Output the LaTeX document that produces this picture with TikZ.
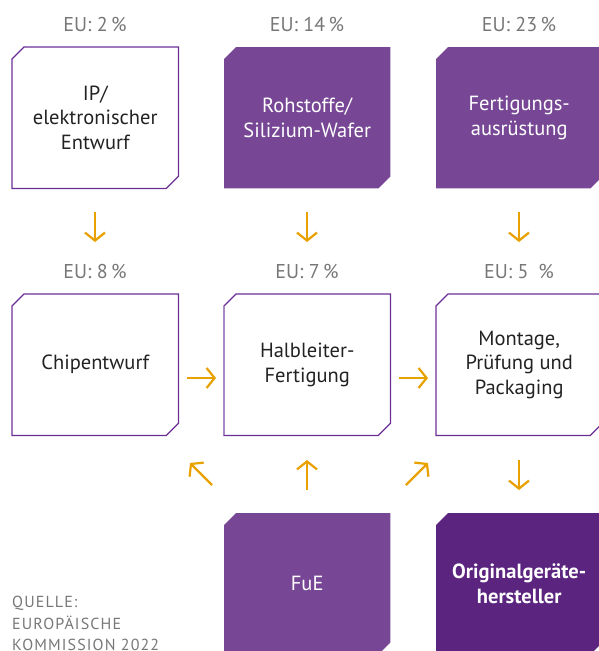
\documentclass[tikz,border=0pt]{standalone}
\usepackage{fontspec}
\setmainfont{PT Sans}
\newfontfamily\srcfont[LetterSpace=7]{PT Sans}
\usetikzlibrary{arrows.meta}
\definecolor{pfill}{HTML}{774795}
\definecolor{pdark}{HTML}{5B247F}
\definecolor{pline}{HTML}{6B2E97}
\definecolor{plight}{HTML}{A888C6}
\definecolor{orng}{HTML}{E9A100}
\definecolor{txt}{HTML}{222222}
\definecolor{lbl}{HTML}{777777}
\newcommand\chamf[2]{\path[#2] ([xshift=12pt]#1.north west) -- (#1.north east) -- ([yshift=12pt]#1.south east) -- ([xshift=-12pt]#1.south east) -- (#1.south west) -- ([yshift=-12pt]#1.north west) -- cycle;}
\tikzset{
  x=1pt, y=-1pt,
  boxn/.style={rectangle, minimum width=166pt, minimum height=141pt, inner sep=0pt, anchor=north west, align=center, font=\fontsize{20.5}{24.5}\selectfont},
  whitebox/.style={boxn, text=txt},
  colbox/.style={boxn, text=white},
  eulbl/.style={font=\fontsize{20}{22}\selectfont, text=lbl},
  oarr/.style={draw=orng, line width=2.2pt, -{Straight Barb[length=8pt,width=20pt,line width=2.2pt]}}
}
\begin{document}
\begin{tikzpicture}
\useasboundingbox (0,0) rectangle (599,651);
% row 1
\node[whitebox] (ip) at (12,47) {IP/\\elektronischer\\Entwurf};
\node[boxn] (roh) at (224,47) {};
\node[boxn] (fert) at (436,47) {};
% row 2
\node[whitebox] (chip) at (12,294) {Chipentwurf};
\node[whitebox] (halb) at (224,294) {Halbleiter-\\Fertigung};
\node[whitebox] (mont) at (436,294) {Montage,\\Prüfung und\\Packaging};
% row 3
\node[boxn] (fue) at (224,513) {};
\node[boxn] (oem) at (436,513) {};
% shapes
\chamf{ip}{draw=pline, line width=1.2pt}
\chamf{chip}{draw=pline, line width=1.2pt}
\chamf{halb}{draw=pline, line width=1.2pt}
\draw[plight, line width=1.2pt] ([yshift=-12pt]halb.north west) -- (halb.south west);
\chamf{mont}{draw=pline, line width=1.2pt}
\chamf{roh}{fill=pfill}
\chamf{fert}{fill=pfill}
\chamf{fue}{fill=pfill}
\chamf{oem}{fill=pdark}
% texts on filled boxes
\node[colbox] (rohT) at (224,47) {Rohstoffe/\\Silizium-Wafer};
\node[colbox] (fertT) at (436,47) {Fertigungs-\\ausrüstung};
\node[colbox] (fueT) at (224,513) {FuE};
\node[colbox, font=\fontsize{20.5}{24.5}\selectfont\bfseries] (oemT) at (436,513) {Originalgeräte-\\hersteller};
% labels
\node[eulbl] (l1) at (95,24) {EU: 2\,\%};
\node[eulbl] (l2) at (307,24) {EU: 14\,\%};
\node[eulbl] (l3) at (519,24) {EU: 23\,\%};
\node[eulbl] (l4) at (95,271) {EU: 8\,\%};
\node[eulbl] (l5) at (307,271) {EU: 7\,\%};
\node[eulbl] (l6) at (519,271) {EU: 5\enspace\%};
% arrow coordinates
\coordinate (d1a) at (95,212); \coordinate (d1b) at (95,242);
\coordinate (d2a) at (307,212); \coordinate (d2b) at (307,242);
\coordinate (d3a) at (519,212); \coordinate (d3b) at (519,242);
\coordinate (r1a) at (187,378); \coordinate (r1b) at (216,378);
\coordinate (r2a) at (399,378); \coordinate (r2b) at (428,378);
\coordinate (d4a) at (519,460); \coordinate (d4b) at (519,490);
\coordinate (u1a) at (307,490); \coordinate (u1b) at (307,460);
\coordinate (ula) at (212,485); \coordinate (ulb) at (190,463);
\coordinate (ura) at (406,485); \coordinate (urb) at (428,463);
\draw[oarr] (d1a) -- (d1b);
\draw[oarr] (d2a) -- (d2b);
\draw[oarr] (d3a) -- (d3b);
\draw[oarr] (r1a) -- (r1b);
\draw[oarr] (r2a) -- (r2b);
\draw[oarr] (d4a) -- (d4b);
\draw[oarr] (u1a) -- (u1b);
\draw[oarr] (ula) -- (ulb);
\draw[oarr] (ura) -- (urb);
% source
\node[anchor=north west, align=left, text=lbl, inner sep=0pt, font=\fontsize{16}{21.5}\selectfont\srcfont] (src) at (12,596) {QUELLE:\\EUROPÄISCHE\\KOMMISSION 2022};
\end{tikzpicture}
\end{document}
